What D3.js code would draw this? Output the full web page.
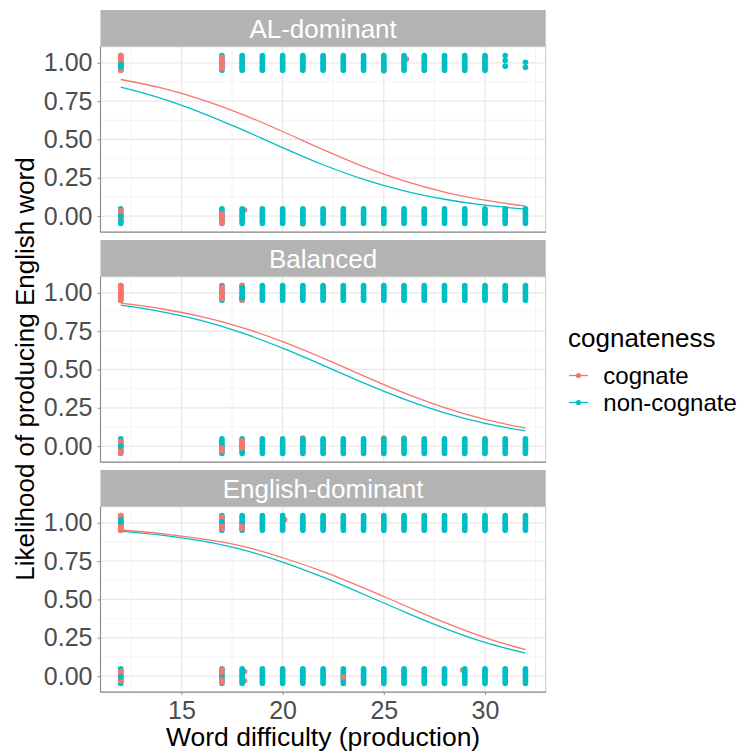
<!DOCTYPE html>
<html>
<head>
<meta charset="utf-8">
<script src="https://cdn.jsdelivr.net/npm/d3@7"></script>
<style>
  html, body { margin: 0; padding: 0; background: #fff; }
  svg text { font-family: "Liberation Sans", Arial, sans-serif; }
</style>
</head>
<body>
<svg id="chart" width="752" height="756"></svg>
<script>
// ---------------- data ----------------
const panels = ["AL-dominant", "Balanced", "English-dominant"];
const groups = ["cognate", "non-cognate"];
const groupColors = ["#F8766D", "#00BFC4"];
const wordX = [12, 17, 18, 19, 20, 21, 22, 23, 24, 25, 26, 27, 28, 29, 30, 31, 32];
const responses = [0, 1];
const xTicks = [15, 20, 25, 30];
const xTickLabels = ["15", "20", "25", "30"];
const yTicks = [0, 0.25, 0.5, 0.75, 1];
const yTickLabels = ["0.00", "0.25", "0.50", "0.75", "1.00"];
const xMinor = [12.5, 17.5, 22.5, 27.5, 32.5];
const yMinor = [0.125, 0.375, 0.625, 0.875];
const jitterFull = [-0.048, -0.036, -0.024, -0.012, 0, 0.012, 0.024, 0.036, 0.048];

// fitted curves (read at these x positions)
const fitX = [12, 14, 16, 18, 20, 22, 24, 26, 28, 30, 32];
const fitAL_cognate    = [0.891, 0.836, 0.760, 0.664, 0.552, 0.434, 0.323, 0.230, 0.157, 0.104, 0.067];
const fitAL_noncognate = [0.841, 0.768, 0.674, 0.564, 0.447, 0.335, 0.240, 0.165, 0.110, 0.071, 0.046];
const fitBal_cognate    = [0.932, 0.896, 0.844, 0.773, 0.682, 0.574, 0.458, 0.347, 0.251, 0.174, 0.117];
const fitBal_noncognate = [0.919, 0.877, 0.818, 0.738, 0.639, 0.527, 0.412, 0.306, 0.217, 0.149, 0.099];
const fitEng_cognate    = [0.953, 0.930, 0.895, 0.848, 0.772, 0.682, 0.576, 0.462, 0.350, 0.251, 0.172];
const fitEng_noncognate = [0.946, 0.920, 0.882, 0.825, 0.744, 0.645, 0.534, 0.420, 0.312, 0.220, 0.150];
const fits = [
  [fitAL_cognate, fitAL_noncognate],
  [fitBal_cognate, fitBal_noncognate],
  [fitEng_cognate, fitEng_noncognate]
];

// point clusters: [groupIndex, x, response, offsets (null = full), dx]
// drawn under the base non-cognate columns
const underAL  = [[0, 18, 0, [0.04], 0.12], [0, 21, 0, [-0.05], 0], [0, 25, 1, [-0.052], 0], [0, 26, 1, [0.025], 0.12]];
const underBal = [[0, 21, 0, [0.052], 0], [0, 25, 0, [0.052], 0], [0, 26, 0, [0.052], 0]];
const underEng = [[0, 18, 0, [0.03, -0.03], 0.12], [0, 29, 0, [0.04], -0.1], [0, 20, 1, [0.02], 0.1]];
// sparse non-cognate columns that replace the base column
const sparseAL  = [[1, 31, 1, [0.047, 0.015, -0.022], 0], [1, 32, 1, [0.004, -0.029], 0]];
const sparseBal = [];
const sparseEng = [];
// drawn over the base non-cognate columns
const overAL = [
  [0, 12, 1, null, 0], [1, 12, 1, [-0.012, -0.026], 0],
  [0, 12, 0, [0.035, 0.015, -0.005, -0.025], 0], [1, 12, 0, [0.0, -0.036], 0],
  [0, 17, 1, [-0.036, -0.024, -0.012, 0, 0.012, 0.024, 0.036], 0],
  [0, 17, 0, [-0.045, -0.03, -0.015, 0, 0.015], 0]
];
const overBal = [
  [0, 12, 1, null, 0],
  [0, 12, 0, [0.03, 0.01, -0.01, -0.03, -0.045], 0], [1, 12, 0, [0.0], 0],
  [0, 17, 1, [-0.038, -0.025, -0.012, 0, 0.012, 0.025, 0.038], 0],
  [0, 17, 0, [-0.012, -0.03], 0],
  [0, 18, 1, [0.047, -0.047], 0], [1, 18, 1, [0.032, -0.032], 0],
  [0, 18, 0, [0.035, 0.02, 0.005, -0.01], 0]
];
const overEng = [
  [0, 12, 1, null, 0], [1, 12, 1, [0.02, 0.005], 0],
  [0, 12, 0, [0.03, 0.01, -0.01, -0.03], 0], [1, 12, 0, [-0.004], 0],
  [0, 17, 1, [-0.038, -0.025, -0.012, 0, 0.012, 0.025, 0.038], 0], [1, 17, 1, [0.008], 0],
  [0, 17, 0, [0.045, 0.025, -0.025, -0.04], 0],
  [0, 18, 1, [-0.025, -0.035], 0],
  [0, 23, 0, [-0.006], 0]
];
const unders = [underAL, underBal, underEng];
const sparses = [sparseAL, sparseBal, sparseEng];
const overs = [overAL, overBal, overEng];

// ---------------- layout ----------------
const svg = d3.select("#chart");
const FONT = "'Liberation Sans', Arial, sans-serif";
const panelLeft = 100.5, panelRight = 545.7;
const panelTops = [46.7, 276.7, 506.7];
const panelH = 185.5;
const stripH = 36.7;
const ptR = 2.8;

const x = d3.scaleLinear().domain([11, 33]).range([panelLeft, panelRight]);

panels.forEach((name, pi) => {
  const top = panelTops[pi];
  const y = d3.scaleLinear().domain([-0.105, 1.105]).range([top + panelH, top]);
  const g = svg.append("g");

  // strip
  g.append("rect").attr("x", panelLeft).attr("y", top - stripH)
    .attr("width", panelRight - panelLeft).attr("height", stripH)
    .attr("fill", "#B3B3B3");
  g.append("text").attr("x", (panelLeft + panelRight) / 2).attr("y", top - stripH + 28.3)
    .attr("text-anchor", "middle").attr("fill", "#FFFFFF")
    .style("font-size", "26px").style("font-family", FONT).text(name);

  // grid
  const grid = g.append("g");
  xMinor.forEach(v => grid.append("line").attr("x1", x(v)).attr("x2", x(v))
    .attr("y1", top).attr("y2", top + panelH).attr("stroke", "#F0F0F0").attr("stroke-width", 0.7));
  yMinor.forEach(v => grid.append("line").attr("y1", y(v)).attr("y2", y(v))
    .attr("x1", panelLeft).attr("x2", panelRight).attr("stroke", "#F0F0F0").attr("stroke-width", 0.7));
  xTicks.forEach(v => grid.append("line").attr("x1", x(v)).attr("x2", x(v))
    .attr("y1", top).attr("y2", top + panelH).attr("stroke", "#E8E8E8").attr("stroke-width", 1.2));
  yTicks.forEach(v => grid.append("line").attr("y1", y(v)).attr("y2", y(v))
    .attr("x1", panelLeft).attr("x2", panelRight).attr("stroke", "#E8E8E8").attr("stroke-width", 1.2));

  // points
  const pts = [];
  const addCluster = c => {
    const offs = c[3] || jitterFull;
    offs.forEach(o => pts.push({ g: c[0], x: c[1] + (c[4] || 0), y: c[2] + o }));
  };
  unders[pi].forEach(addCluster);
  wordX.forEach(wx => responses.forEach(r => {
    const sp = sparses[pi].find(s => s[1] === wx && s[2] === r);
    if (sp) addCluster(sp);
    else addCluster([1, wx, r, null, 0]);
  }));
  overs[pi].forEach(addCluster);

  g.append("g").selectAll("circle").data(pts).join("circle")
    .attr("cx", d => x(d.x)).attr("cy", d => y(d.y)).attr("r", ptR)
    .attr("fill", d => groupColors[d.g]);

  // fitted lines
  const line = d3.line().x(d => x(d[0])).y(d => y(d[1])).curve(d3.curveCatmullRom);
  [1, 0].forEach(gi => {
    g.append("path").datum(fitX.map((v, i) => [v, fits[pi][gi][i]]))
      .attr("d", line).attr("fill", "none")
      .attr("stroke", groupColors[gi]).attr("stroke-width", 1.3);
  });

  // panel border
  g.append("rect").attr("x", panelLeft).attr("y", top)
    .attr("width", panelRight - panelLeft).attr("height", panelH)
    .attr("fill", "none").attr("stroke", "#C8C8C8").attr("stroke-width", 1);
  g.append("line").attr("x1", panelLeft).attr("x2", panelLeft).attr("y1", top).attr("y2", top + panelH)
    .attr("stroke", "#8F8F8F").attr("stroke-width", 1.2);
  g.append("line").attr("x1", panelLeft).attr("x2", panelRight).attr("y1", top + panelH).attr("y2", top + panelH)
    .attr("stroke", "#8F8F8F").attr("stroke-width", 1.2);

  // y axis
  const ya = g.append("g").attr("transform", `translate(${panelLeft},0)`)
    .call(d3.axisLeft(y).tickValues(yTicks).tickSize(3).tickPadding(5)
      .tickFormat((d, i) => yTickLabels[i]));
  ya.select(".domain").remove();
  ya.selectAll("line").attr("stroke", "#8F8F8F");
  ya.selectAll("text").attr("fill", "#4D4D4D").style("font-size", "25px").style("font-family", FONT);

  if (pi === panels.length - 1) {
    const xa = g.append("g").attr("transform", `translate(0,${top + panelH})`)
      .call(d3.axisBottom(x).tickValues(xTicks).tickSize(3).tickPadding(6.5)
        .tickFormat((d, i) => xTickLabels[i]));
    xa.select(".domain").remove();
    xa.selectAll("line").attr("stroke", "#8F8F8F");
    xa.selectAll("text").attr("fill", "#4D4D4D").style("font-size", "25px").style("font-family", FONT);
  }
});

// axis titles
svg.append("text").attr("x", (panelLeft + panelRight) / 2).attr("y", 746)
  .attr("text-anchor", "middle").attr("fill", "#000")
  .style("font-size", "26.5px").style("font-family", FONT)
  .text("Word difficulty (production)");
svg.append("text").attr("transform", "translate(33.5,369) rotate(-90)")
  .attr("text-anchor", "middle").attr("fill", "#000")
  .style("font-size", "26px").style("font-family", FONT)
  .text("Likelihood of producing English word");

// legend
const lg = svg.append("g");
lg.append("text").attr("x", 568).attr("y", 347).attr("fill", "#000")
  .style("font-size", "26px").style("font-family", FONT).text("cognateness");
const legendY = [375.5, 402.5];
groups.forEach((gname, i) => {
  lg.append("line").attr("x1", 569).attr("x2", 588).attr("y1", legendY[i]).attr("y2", legendY[i])
    .attr("stroke", groupColors[i]).attr("stroke-width", 1.3);
  lg.append("circle").attr("cx", 578.5).attr("cy", legendY[i]).attr("r", 2.6).attr("fill", groupColors[i]);
  lg.append("text").attr("x", 603.3).attr("y", legendY[i] + 8.3).attr("fill", "#000")
    .style("font-size", "24px").style("font-family", FONT).text(gname);
});
</script>
</body>
</html>
